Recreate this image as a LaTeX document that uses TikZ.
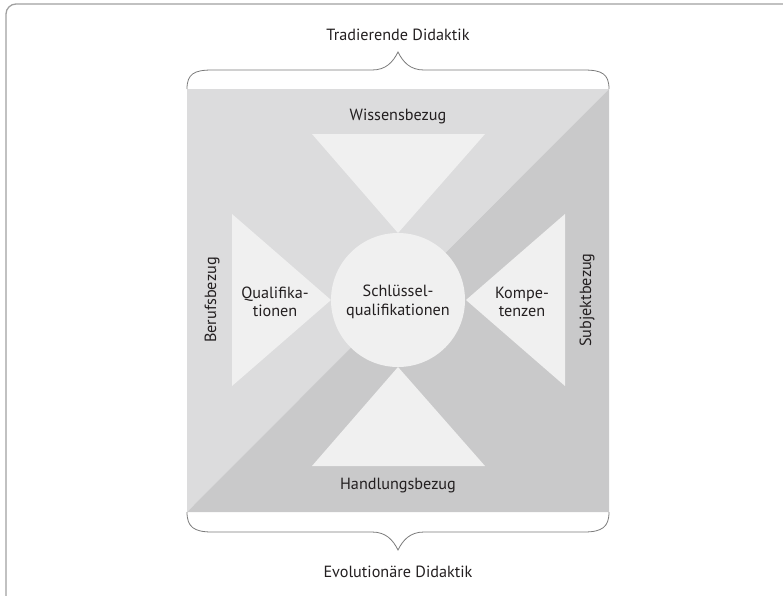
\documentclass[tikz,border=0pt]{standalone}
\usepackage{fontspec}
\setmainfont{PT Sans}
\begin{document}
\begin{tikzpicture}[x=1pt,y=-1pt,
  lbl/.style={font=\fontsize{16.2}{18.5}\selectfont, text=txtcol, inner sep=0pt, align=center},
  brace/.style={draw=bracecol, line width=0.8pt},
  tri/.style={fill=tricol, draw=none}]
\definecolor{lightbg}{HTML}{DCDCDD}
\definecolor{darkbg}{HTML}{C9C9CA}
\definecolor{tricol}{HTML}{F0F0F0}
\definecolor{txtcol}{HTML}{231F20}
\definecolor{bracecol}{HTML}{7A7A7A}
\definecolor{framecol}{HTML}{A0A0A0}
\useasboundingbox (0,0) rectangle (783,595);
% frame
\draw[framecol, line width=1.3pt, rounded corners=10pt] (6,600) -- (6,4) -- (790,4);
% square halves
\coordinate (tl) at (187,89);
\coordinate (tr) at (609,89);
\coordinate (bl) at (187,512);
\coordinate (br) at (609,512);
\fill[lightbg] (tl) -- (tr) -- (bl) -- cycle;
\fill[darkbg] (tr) -- (br) -- (bl) -- cycle;
% triangles
\fill[tri] (312,134) -- (485,134) -- (398,233) -- cycle;
\fill[tri] (312,466) -- (485,466) -- (398,367) -- cycle;
\fill[tri] (232,214) -- (232,386) -- (331,300) -- cycle;
\fill[tri] (565,214) -- (565,386) -- (466,300) -- cycle;
% circle
\fill[tricol] (398,300) circle[radius=67];
% braces
\draw[brace] (187,89) .. controls (187,74) and (194,70) .. (212,70) -- (372,70)
  .. controls (386,70) and (393,62) .. (398,52)
  .. controls (403,62) and (410,70) .. (424,70) -- (584,70)
  .. controls (602,70) and (609,74) .. (609,89);
\draw[brace] (187,512) .. controls (187,527) and (194,532) .. (212,532) -- (372,532)
  .. controls (386,532) and (393,540) .. (398,550)
  .. controls (403,540) and (410,532) .. (424,532) -- (584,532)
  .. controls (602,532) and (609,527) .. (609,512);
% labels
\node[lbl] (trad) at (398,35) {Tradierende Didaktik};
\node[lbl] (evo) at (398,572) {Evolutionäre Didaktik};
\node[lbl] (wiss) at (398,116) {Wissensbezug};
\node[lbl] (hand) at (398,486) {Handlungsbezug};
\node[lbl, rotate=90] (beruf) at (212,300) {Berufsbezug};
\node[lbl, rotate=90] (subj) at (587,300) {Subjektbezug};
\node[lbl] (quali) at (275,302) {Qualifika-\\tionen};
\node[lbl] (schl) at (398,302) {Schlüssel-\\qualifikationen};
\node[lbl] (komp) at (522,302) {Kompe-\\tenzen};
\end{tikzpicture}
\end{document}
